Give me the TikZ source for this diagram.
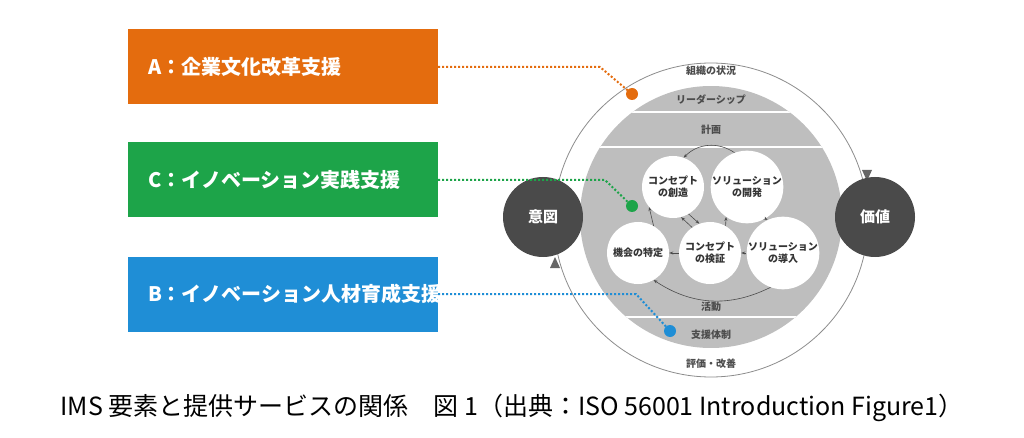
\documentclass[tikz,border=0pt]{standalone}
\usepackage{fontspec}
\setmainfont{Noto Sans CJK JP}
\usetikzlibrary{arrows.meta}
\definecolor{imsorange}{HTML}{E46C0E}
\definecolor{imsgreen}{HTML}{1DA449}
\definecolor{imsblue}{HTML}{1F8ED6}
\definecolor{imsgray}{HTML}{BEBEBE}
\definecolor{imsdark}{HTML}{4A4A4A}
\tikzset{
  svcbox/.style={minimum width=310pt,minimum height=75pt,text=white,font=\fontsize{20}{24}\selectfont\bfseries,
    text width=270pt,align=left,inner sep=0pt},
  elem/.style={circle,fill=white,minimum size=62pt,inner sep=0pt,align=center,font=\fontsize{10}{12}\selectfont\bfseries,text=black!80},
  goal/.style={circle,fill=imsdark,minimum size=80pt,text=white,font=\fontsize{15}{18}\selectfont\bfseries},
  band/.style={font=\fontsize{10}{12}\selectfont\bfseries,text=black!70},
  link/.style={line width=2pt,dotted},
  flow/.style={-{Stealth[length=4pt]},black!70,line width=0.6pt}
}
\begin{document}
\begin{tikzpicture}[x=1pt,y=-1pt]
\useasboundingbox (0,0) rectangle (1024,438);

% outer circle and gray disk
\draw[black!45,line width=0.8pt] (711,220) circle (157);
\begin{scope}
\clip (711,217) circle (131);
\fill[imsgray] (580,86) rectangle (842,348);
\foreach \y in {112,147,317}
{\draw[white,line width=2.5pt] (570,\y) -- (852,\y);}
\end{scope}

% arrowheads on the outer circle
\fill[black!60] (862,170) -- (872,170) -- (867,181) -- cycle;
\fill[black!60] (550,268) -- (560,268) -- (555,257) -- cycle;

% bands
\node[band] (ctx) at (711,71) {組織の状況};
\node[band] (lead) at (711,100) {リーダーシップ};
\node[band] (plan) at (711,130) {計画};
\node[band] (act) at (711,307) {活動};
\node[band] (supp) at (711,335) {支援体制};
\node[band] (eval) at (711,364) {評価・改善};

% goals
\node[goal] (intent) at (543,217) {意図};
\node[goal] (value) at (875,217) {価値};

% process elements
\node[elem] (create) at (673,187) {コンセプト\\の創造};
\node[elem] (devel) at (747,187) {ソリューション\\の開発};
\node[elem] (oppo) at (638,253) {機会の特定};
\node[elem] (valid) at (710,253) {コンセプト\\の検証};
\node[elem] (deploy) at (783,253) {ソリューション\\の導入};

\draw[flow] (oppo.60) -- (create.220);
\draw[flow] (create.300) -- (valid.110);
\draw[flow] (valid.125) -- (create.285);
\draw[flow] (valid.60) -- (devel.235);
\draw[flow] (devel.300) -- (deploy.115);
\draw[flow] (deploy.180) -- (valid.0);
\draw[flow] (valid.180) -- (oppo.0);
\draw[flow] (devel.110) to[bend right=40] (create.70);
\draw[flow] (deploy.250) to[bend left=30] (oppo.300);

% services
\node[svcbox,fill=imsorange] (svcA) at (283,67) {A：企業文化改革支援};
\node[svcbox,fill=imsgreen] (svcC) at (283,180) {C：イノベーション実践支援};
\node[svcbox,fill=imsblue] (svcB) at (283,294) {B：イノベーション人材育成支援};

\coordinate (dotA) at (632,94);
\coordinate (dotC) at (632,206);
\coordinate (dotB) at (670,331);
\draw[link,imsorange] (svcA.east) -- (600,67) -- (dotA);
\draw[link,imsgreen] (svcC.east) -- (605,180) -- (dotC);
\draw[link,imsblue] (svcB.east) -- (636,294) -- (dotB);
\fill[imsorange] (dotA) circle (6);
\fill[imsgreen] (dotC) circle (6);
\fill[imsblue] (dotB) circle (6);

% caption
\node[font=\fontsize{25}{30}\selectfont] (cap) at (512,408) {IMS 要素と提供サービスの関係　図 1（出典：ISO 56001 Introduction Figure1）};
\end{tikzpicture}
\end{document}
